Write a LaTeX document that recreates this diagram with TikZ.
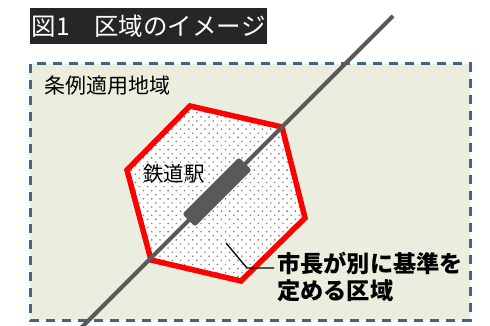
\documentclass[tikz,border=0pt]{standalone}
\usepackage{fontspec}
\setmainfont{Noto Sans CJK JP}
\usetikzlibrary{patterns.meta}
\definecolor{titlebg}{HTML}{262626}
\definecolor{areafill}{HTML}{EBEEDF}
\definecolor{areaborder}{HTML}{41638F}
\definecolor{railgray}{HTML}{595959}
\definecolor{dotgray}{HTML}{7F7F7F}
\definecolor{zonered}{HTML}{FF0000}
\tikzset{
  titlebox/.style={fill=titlebg, text=white, inner sep=0pt, minimum width=237pt, minimum height=36pt,
    font=\fontsize{24.5pt}{28pt}\selectfont},
  areabox/.style={fill=areafill, draw=areaborder, line width=3pt, dash pattern=on 9pt off 7pt},
  zone/.style={draw=zonered, line width=5.5pt, line join=miter, fill=white},
  zonedots/.style={pattern={Dots[distance=5.8pt, angle=45, radius=0.95pt]}, pattern color=dotgray},
  rail/.style={draw=railgray, line width=4pt},
  station/.style={fill=railgray, rounded corners=2.5pt, minimum width=80pt, minimum height=18pt, inner sep=0pt, rotate=45},
  plainlabel/.style={inner sep=0pt, font=\fontsize{21pt}{24pt}\selectfont},
  boldlabel/.style={inner sep=0pt, align=left, font=\bfseries\fontsize{23.2pt}{27pt}\selectfont},
  leader/.style={draw=black, line width=1.3pt}
}
\begin{document}
\begin{tikzpicture}[x=1pt, y=-1pt]
\clip (0,0) rectangle (490,326);
\fill[white] (0,0) rectangle (490,326);
% title
\node[titlebox, anchor=north west] (title) at (30,8) {図1　区域のイメージ};
% area
\path[areabox] (30,64) rectangle (470,320);
\node[plainlabel, anchor=west] (area) at (44,86) {条例適用地域};
% zone hexagon
\coordinate (h1) at (190,106);
\coordinate (h2) at (282,127);
\coordinate (h3) at (305,218);
\coordinate (h4) at (241,281);
\coordinate (h5) at (151,260);
\coordinate (h6) at (127,170);
\path[fill=white] (h1) -- (h2) -- (h3) -- (h4) -- (h5) -- (h6) -- cycle;
\path[zonedots] (h1) -- (h2) -- (h3) -- (h4) -- (h5) -- (h6) -- cycle;
\draw[zone, fill=none] (h1) -- (h2) -- (h3) -- (h4) -- (h5) -- (h6) -- cycle;
% rail
\coordinate (railtop) at (393,16);
\coordinate (railbot) at (80,329);
\draw[rail] (railtop) -- (railbot);
\node[station] (stn) at (217,192) {};
\node[plainlabel, font=\fontsize{20.5pt}{24pt}\selectfont] (stnlabel) at (174,174) {鉄道駅};
% leader and label
\node[boldlabel, anchor=west] (zonelabel) at (277,277) {市長が別に基準を\\定める区域};
\coordinate (lstart) at (226,243);
\coordinate (lbend) at (247,268);
\coordinate (lend) at (274,268);
\draw[leader] (lstart) -- (lbend) -- (lend);
\end{tikzpicture}
\end{document}
